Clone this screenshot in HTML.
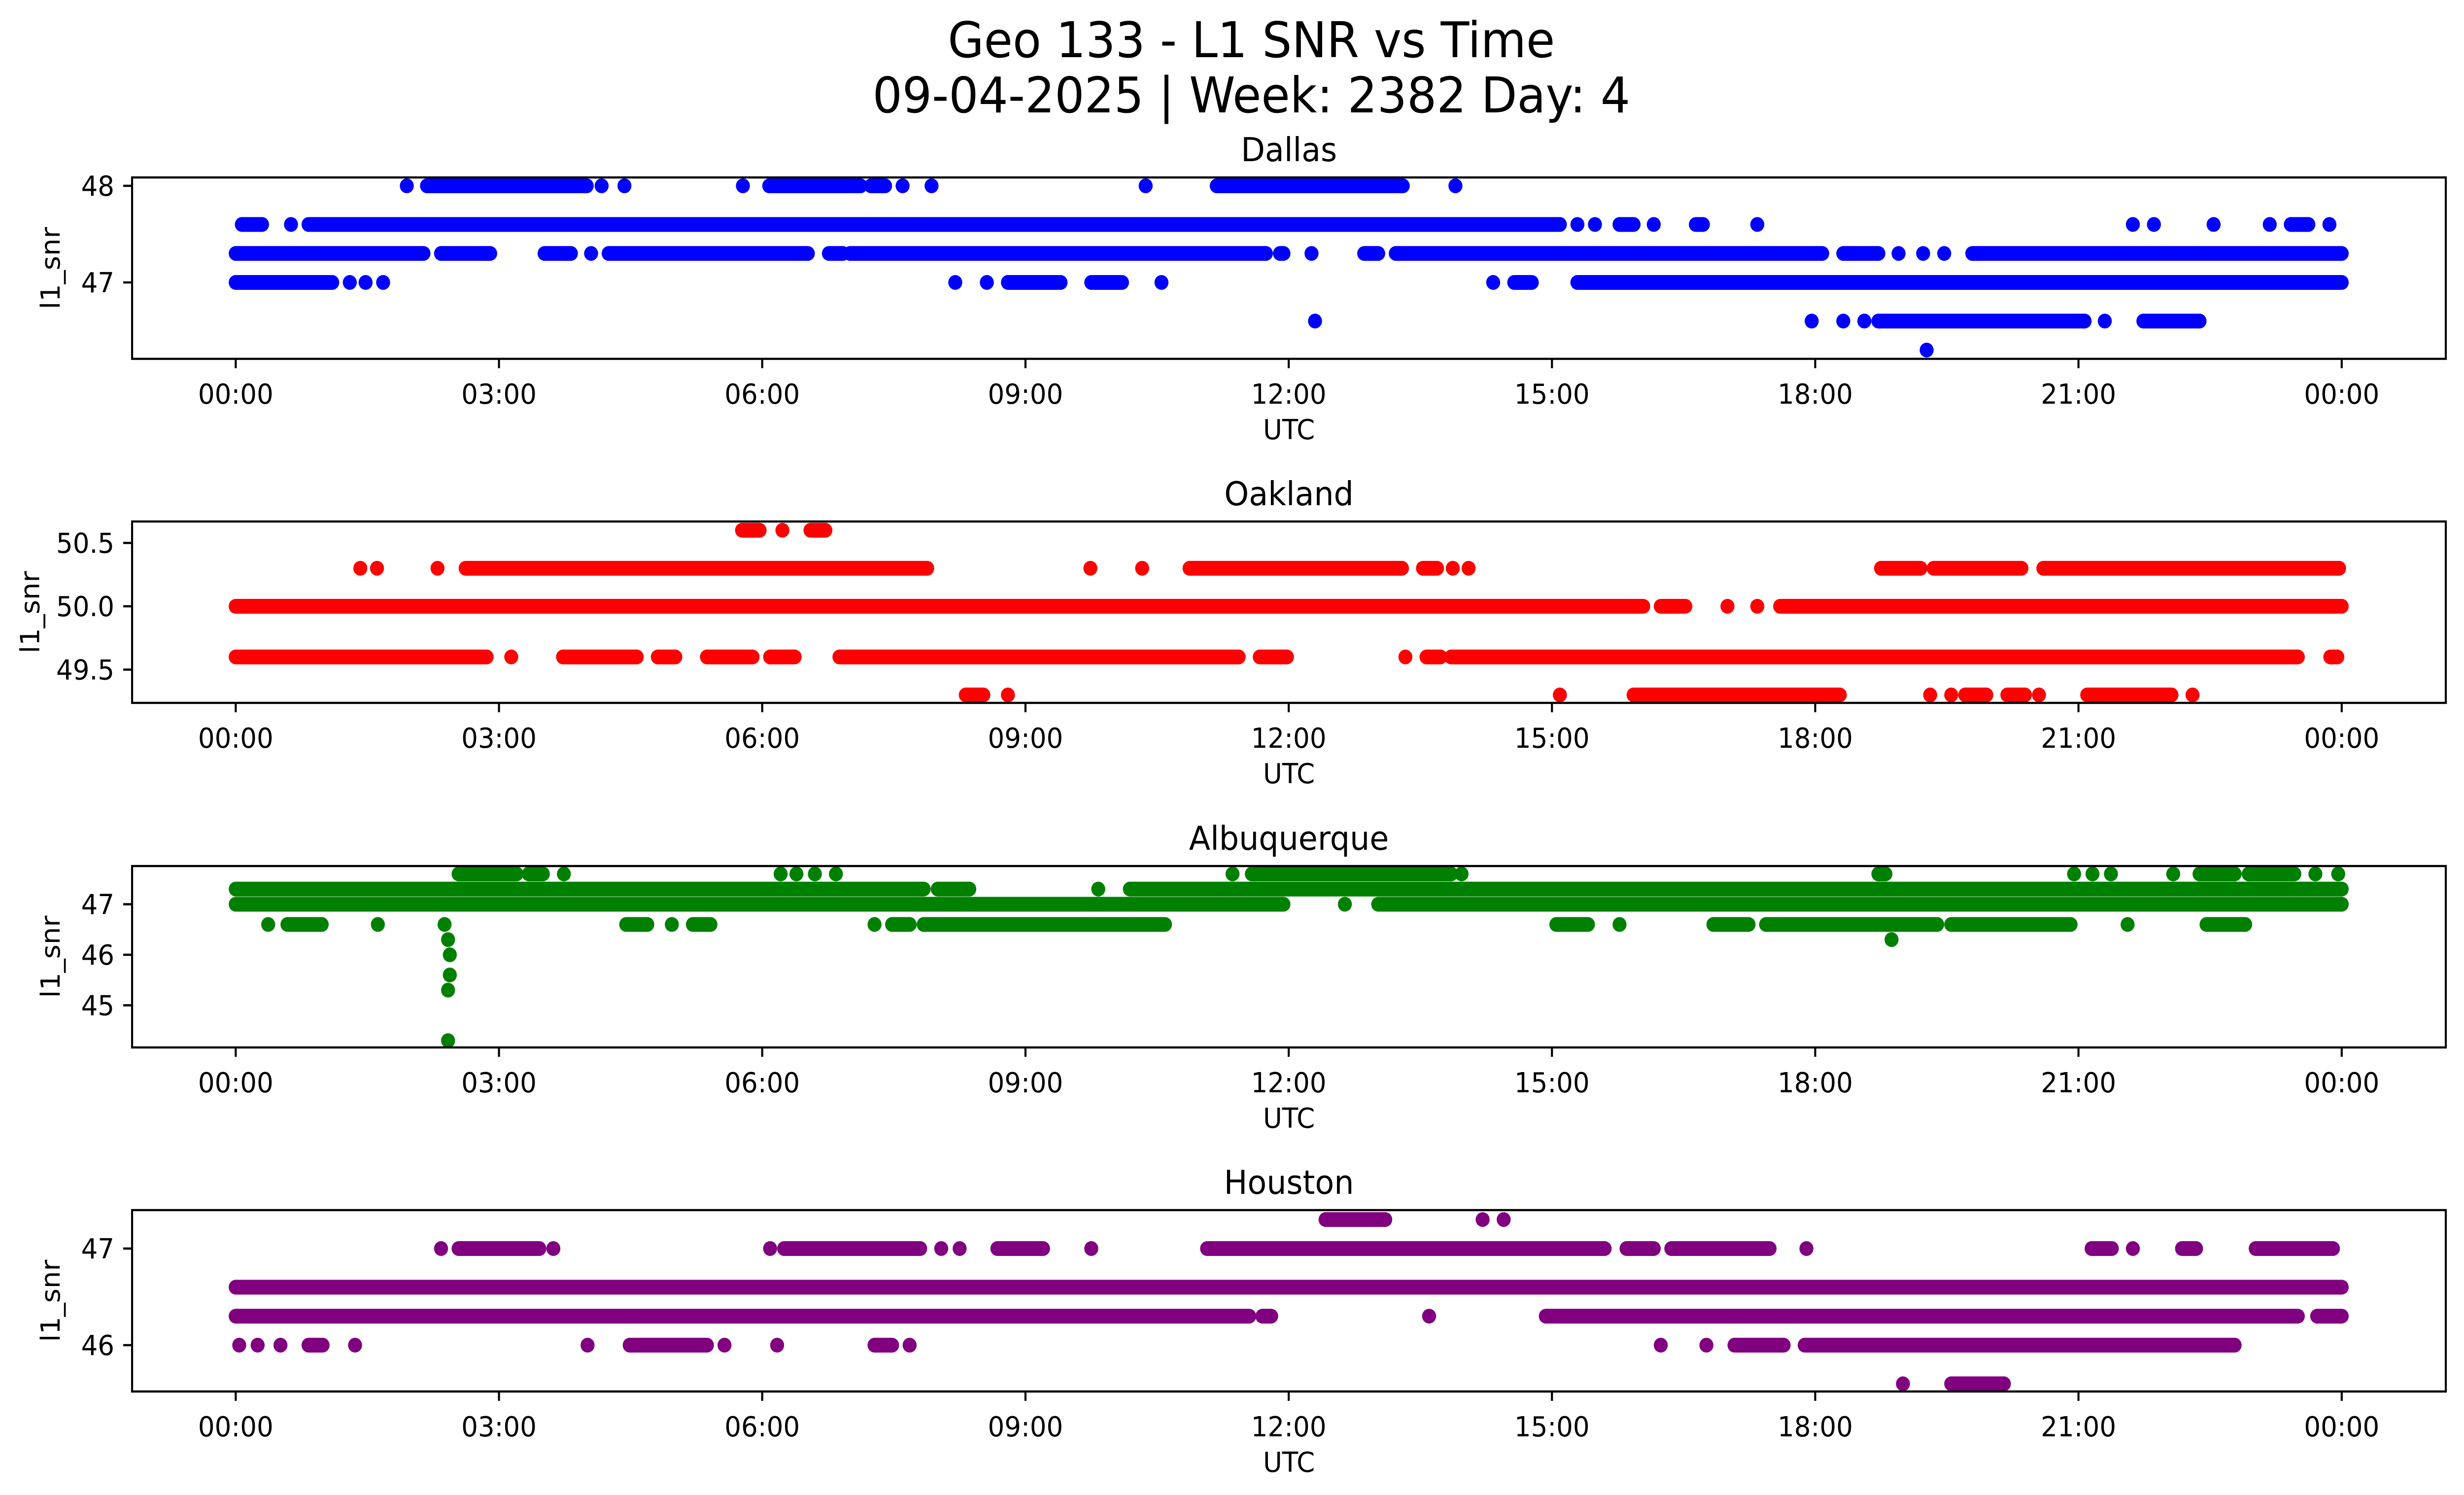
<!DOCTYPE html>
<html><head><meta charset="utf-8"><style>
html,body{margin:0;padding:0;background:#fff;width:100vw;height:100vh;overflow:hidden;}
svg{display:block;width:100vw;height:100vh;font-family:"DejaVu Sans","Liberation Sans",sans-serif;}
</style></head><body>
<svg id="fig" viewBox="0 0 5279 3033" preserveAspectRatio="none" xmlns="http://www.w3.org/2000/svg">
<rect width="5279" height="3033" fill="#fff"/>
<text x="2681" y="116" font-size="100" text-anchor="middle">Geo 133 - L1 SNR vs Time</text>
<text x="2681" y="228" font-size="100" text-anchor="middle">09-04-2025 | Week: 2382 Day: 4</text>
</svg>
<script>
const timeTicks = [0,3,6,9,12,15,18,21,24];
const timeTickLabels = ["00:00","03:00","06:00","09:00","12:00","15:00","18:00","21:00","00:00"];

const dallasLevels = [48,47.6,47.3,47.0,46.6,46.3];
const dallasSegs = [
 [[1.95,1.95],[2.18,4.0],[4.17,4.17],[4.43,4.43],[5.78,5.78],[6.08,7.12],[7.24,7.4],[7.6,7.6],[7.93,7.93],[10.37,10.37],[11.18,13.3],[13.9,13.9]],
 [[0.07,0.3],[0.63,0.63],[0.83,15.09],[15.29,15.29],[15.49,15.49],[15.77,15.93],[16.16,16.16],[16.64,16.72],[17.34,17.34],[21.62,21.62],[21.86,21.86],[22.54,22.54],[23.18,23.18],[23.42,23.62],[23.86,23.86]],
 [[0,2.14],[2.34,2.9],[3.52,3.82],[4.05,4.05],[4.25,6.52],[6.76,6.92],[7.0,11.74],[11.9,11.94],[12.26,12.26],[12.86,13.02],[13.22,18.08],[18.32,18.72],[18.95,18.95],[19.23,19.23],[19.47,19.47],[19.79,24]],
 [[0,1.1],[1.3,1.3],[1.48,1.48],[1.68,1.68],[8.2,8.2],[8.56,8.56],[8.8,9.4],[9.75,10.1],[10.55,10.55],[14.33,14.33],[14.57,14.77],[15.29,24]],
 [[12.3,12.3],[17.96,17.96],[18.32,18.32],[18.56,18.56],[18.72,21.07],[21.3,21.3],[21.74,22.38]],
 [[19.27,19.27]]
];
const dallasYTicks = [48,47];
const dallasYTickLabels = ["48","47"];

const oaklandLevels = [50.6,50.3,50.0,49.6,49.3];
const oaklandSegs = [
 [[5.77,5.97],[6.23,6.23],[6.55,6.72]],
 [[1.42,1.42],[1.61,1.61],[2.3,2.3],[2.62,7.88],[9.74,9.74],[10.33,10.33],[10.87,13.29],[13.53,13.69],[13.87,13.87],[14.05,14.05],[18.75,19.2],[19.35,20.35],[20.6,23.97]],
 [[0,16.04],[16.24,16.52],[17.0,17.0],[17.34,17.34],[17.6,24]],
 [[0,2.86],[3.14,3.14],[3.73,4.57],[4.81,5.01],[5.37,5.89],[6.09,6.37],[6.88,11.43],[11.67,11.98],[13.33,13.33],[13.57,13.73],[13.85,23.5],[23.87,23.95]],
 [[8.32,8.52],[8.8,8.8],[15.09,15.09],[15.93,18.28],[19.31,19.31],[19.55,19.55],[19.71,19.95],[20.19,20.39],[20.55,20.55],[21.1,22.06],[22.3,22.3]]
];
const oaklandYTicks = [50.5,50.0,49.5];
const oaklandYTickLabels = ["50.5","50.0","49.5"];

const albuquerqueLevels = [47.6,47.3,47.0,46.6,46.3,46.0,45.6,45.3,44.3];
const albuquerqueSegs = [
 [[2.54,3.2],[3.34,3.5],[3.74,3.74],[6.21,6.21],[6.39,6.39],[6.6,6.6],[6.84,6.84],[11.36,11.36],[11.58,13.85],[13.97,13.97],[18.72,18.8],[20.95,20.95],[21.16,21.16],[21.37,21.37],[22.08,22.08],[22.38,22.78],[22.94,23.46],[23.7,23.7],[23.96,23.96]],
 [[0,7.84],[8.0,8.36],[9.83,9.83],[10.19,24]],
 [[0,11.94],[12.64,12.64],[13.02,24]],
 [[0.37,0.37],[0.59,0.98],[1.62,1.62],[2.38,2.38],[4.45,4.69],[4.97,4.97],[5.21,5.41],[7.28,7.28],[7.48,7.68],[7.84,10.59],[15.05,15.41],[15.77,15.77],[16.84,17.24],[17.44,19.39],[19.55,20.91],[21.56,21.56],[22.46,22.9]],
 [[2.42,2.42],[18.87,18.87]],
 [[2.44,2.44]],
 [[2.44,2.44]],
 [[2.42,2.42]],
 [[2.42,2.42]]
];
const albuquerqueYTicks = [47,46,45];
const albuquerqueYTickLabels = ["47","46","45"];

const houstonLevels = [47.3,47.0,46.6,46.3,46.0,45.6];
const houstonSegs = [
 [[12.42,13.1],[14.21,14.21],[14.45,14.45]],
 [[2.34,2.34],[2.54,3.46],[3.62,3.62],[6.09,6.09],[6.25,7.8],[8.04,8.04],[8.25,8.25],[8.68,9.2],[9.75,9.75],[11.07,15.6],[15.85,16.16],[16.36,17.48],[17.9,17.9],[21.15,21.38],[21.62,21.62],[22.18,22.34],[23.02,23.9]],
 [[0,24]],
 [[0,11.55],[11.7,11.8],[13.6,13.6],[14.93,23.5],[23.72,24]],
 [[0.04,0.04],[0.25,0.25],[0.51,0.51],[0.83,0.99],[1.36,1.36],[4.01,4.01],[4.49,5.37],[5.57,5.57],[6.17,6.17],[7.28,7.48],[7.68,7.68],[16.24,16.24],[16.76,16.76],[17.08,17.64],[17.88,22.78]],
 [[19.0,19.0],[19.55,20.15]]
];
const houstonYTicks = [47,46];
const houstonYTickLabels = ["47","46"];

const NS = "http://www.w3.org/2000/svg";
const fig = document.getElementById("fig");
function mk(tag, attrs, parent){
  const e = document.createElementNS(NS, tag);
  for (const k in attrs) e.setAttribute(k, attrs[k]);
  (parent||fig).appendChild(e);
  return e;
}
const X0 = 283, X1 = 5240;
function xScale(h){ return 505 + 188*h; }
const R = 15;

function panel(key, title, color, top, refV, refY, pxPerUnit, levels, segs, yTicks, yLabels){
  const H = 368;
  const yScale = v => refY - (v - refV)*pxPerUnit;
  const g = mk("g", {});
  
  
  const t = mk("text", {x:(X0+X1)/2, y:top-33, "font-size":67, "text-anchor":"middle"}, g);
  t.textContent = title;
  
  
  const pts = mk("g", {fill:color}, g);
  
  
  levels.forEach((lv, i) => {
    const y = yScale(lv);
    segs[i].forEach(s => {
      const xa = xScale(s[0]), xb = xScale(s[1]);
      if (xb - xa > 0.5) {
        const r = mk("rect", {x:xa, y:y-R, width:xb-xa, height:2*R}, pts);
        
        
      }
      const c1 = mk("circle", {cx:xa, cy:y, r:R}, pts);
      
      
      if (xb - xa > 0.5) {
        const c2 = mk("circle", {cx:xb, cy:y, r:R}, pts);
        
        
      }
    });
  });
  const frame = mk("rect", {x:X0, y:top, width:X1-X0, height:H, fill:"none", stroke:"#000", "stroke-width":4.4}, g);
  
  
  timeTicks.forEach((tk, i) => {
    const x = xScale(tk);
    const l = mk("line", {x1:x, x2:x, y1:top+H, y2:top+H+19, stroke:"#000", "stroke-width":4.4}, g);
    
    
    const tl = mk("text", {x:x, y:top+H+91, "font-size":56, "text-anchor":"middle"}, g);
    tl.textContent = timeTickLabels[i];
    
    
  });
  const xl = mk("text", {x:(X0+X1)/2, y:top+H+163, "font-size":56, "text-anchor":"middle"}, g);
  xl.textContent = "UTC";
  
  
  yTicks.forEach((v, i) => {
    const y = yScale(v);
    const l = mk("line", {x1:X0-19, x2:X0, y1:y, y2:y, stroke:"#000", "stroke-width":4.4}, g);
    
    
    const tl = mk("text", {x:X0-38, y:y+20, "font-size":56, "text-anchor":"end"}, g);
    tl.textContent = yLabels[i];
    
    
  });
  const yl = mk("text", {x:0, y:0, "font-size":56, "text-anchor":"middle", transform:"translate(" + (key==="oakland"?84:128) + "," + (top+H/2) + ") rotate(-90)"}, g);
  yl.textContent = "l1_snr";
  
  
}

panel("dallas", "Dallas", "#0000ff", 360, 48, 377, 196, dallasLevels, dallasSegs, dallasYTicks, dallasYTickLabels);
panel("oakland", "Oakland", "#ff0000", 1058, 50.0, 1230, 257, oaklandLevels, oaklandSegs, oaklandYTicks, oaklandYTickLabels);
panel("albuquerque", "Albuquerque", "#008000", 1757, 47.6, 1773, 102.5, albuquerqueLevels, albuquerqueSegs, albuquerqueYTicks, albuquerqueYTickLabels);
panel("houston", "Houston", "#800080", 2455, 47.0, 2533, 196, houstonLevels, houstonSegs, houstonYTicks, houstonYTickLabels);
</script>
</body></html>
